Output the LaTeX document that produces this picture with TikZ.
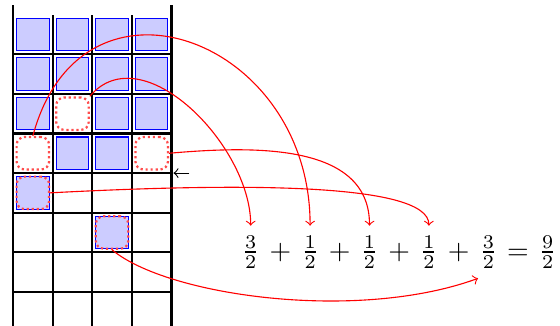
\documentclass[tikz,border=0pt]{standalone}
\usepackage{amsmath,amssymb}
\usepackage{xcolor}
\usepackage{tikz}
\usetikzlibrary{arrows, positioning}
\tikzset{
  cell/.style={
    rectangle,
    draw=blue,
    fill=blue!20,
    minimum size=0.41cm,
    inner sep=0pt
  },
  hole/.style={
    rectangle,
    draw=red!70,
    thick,
    densely dotted,
    rounded corners=1mm,
    minimum size=0.41cm,
    inner sep=0pt
  },
  gridline/.style={
    thick,
    black
  },
  move/.style={
    ->,
    red
  }
}

\begin{document}
\begin{tikzpicture}[
  x=0.5cm, y=0.5cm,
  term/.style={anchor=base, inner xsep=0.5pt, inner ysep=3.5pt, outer sep=0pt}
]
  \useasboundingbox (-0.33,-0.84) rectangle (13.81,7.37);

  % GRID
  \draw[gridline] (0,-0.9) -- (0,7.25);
  \draw[gridline] (1,-0.9) -- (1,7);
  \draw[gridline] (2,-0.9) -- (2,7);
  \draw[gridline] (3,-0.9) -- (3,7);
  \draw[gridline] (4,-0.9) -- (4,7.25);
  \draw[gridline] (0,0) -- (4,0);
  \draw[gridline] (0,1) -- (4,1);
  \draw[gridline] (0,2) -- (4,2);
  \draw[gridline] (0,3) -- (4,3);
  \draw[gridline] (0,4) -- (4,4);
  \draw[gridline] (0,5) -- (4,5);
  \draw[gridline] (0,6) -- (4,6);

  % FILLED CELLS
  \node (S61) [cell] at (0.5,6.5) {};
  \node (S62) [cell] at (1.5,6.5) {};
  \node (S63) [cell] at (2.5,6.5) {};
  \node (S64) [cell] at (3.5,6.5) {};
  \node (S51) [cell] at (0.5,5.5) {};
  \node (S52) [cell] at (1.5,5.5) {};
  \node (S53) [cell] at (2.5,5.5) {};
  \node (S54) [cell] at (3.5,5.5) {};
  \node (S41) [cell] at (0.5,4.5) {};
  \node (S43) [cell] at (2.5,4.5) {};
  \node (S44) [cell] at (3.5,4.5) {};
  \node (S32) [cell] at (1.5,3.5) {};
  \node (S33) [cell] at (2.5,3.5) {};
  \node (S21) [cell] at (0.5,2.5) {};
  \node (S13) [cell] at (2.5,1.5) {};

  % HOLES
  \node (H42) [hole] at (1.5,4.5) {};
  \node (H31) [hole] at (0.5,3.5) {};
  \node (H34) [hole] at (3.5,3.5) {};
  \node (H21) [hole] at (0.5,2.5) {};
  \node (H13) [hole] at (2.5,1.5) {};

  % LEVEL MARK
  \coordinate (mark) at (4.05,3);
  \coordinate (markTail) at (4.45,3);
  \draw[->] (markTail) -- (mark);

  % SUM
  \node (T1) [term] at (6,0.83) {$\frac{3}{2}$};
  \node (O1) [term] at (6.75,0.83) {$+$};
  \node (T2) [term] at (7.5,0.83) {$\frac{1}{2}$};
  \node (O2) [term] at (8.25,0.83) {$+$};
  \node (T3) [term] at (9,0.83) {$\frac{1}{2}$};
  \node (O3) [term] at (9.75,0.83) {$+$};
  \node (T4) [term] at (10.5,0.83) {$\frac{1}{2}$};
  \node (O4) [term] at (11.25,0.83) {$+$};
  \node (T5) [term] at (12,0.83) {$\frac{3}{2}$};
  \node (EQ) [term] at (12.75,0.83) {$=$};
  \node (T6) [term] at (13.5,0.83) {$\frac{9}{2}$};

  % MOVES
  \draw[move] (H42.north east) to[out=50, in=90] (T1.north);
  \draw[move] (H31.north) to[out=75, in=90, looseness=1.65] (T2.north);
  \draw[move] (H34.east) to[out=5, in=90] (T3.north);
  \draw[move] (S21.east) to[out=3, in=90, out looseness=1.2, in looseness=0.3] (T4.north);
  \draw[move] (H13.south) to[out=-40, in=200, out looseness=0.5, in looseness=0.9] (T5.south west);

\end{tikzpicture}
\end{document}
